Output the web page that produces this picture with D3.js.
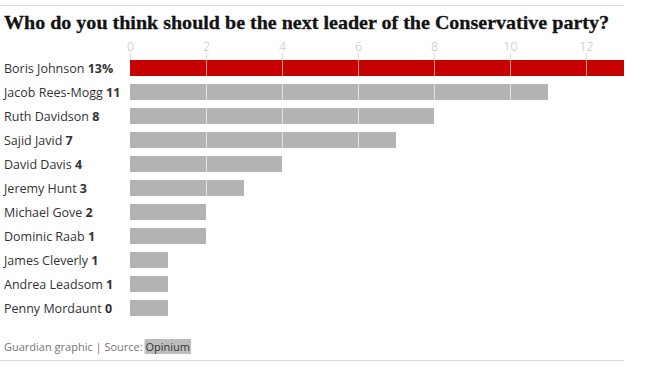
<!DOCTYPE html>
<html>
<head>
<meta charset="utf-8">
<script src="https://cdn.jsdelivr.net/npm/d3@7"></script>
<style>
  body { margin: 0; background: #fff; }
  svg { display: block; }
</style>
</head>
<body>
<div id="chart"></div>
<script>
// poll data
const names = ["Boris Johnson", "Jacob Rees-Mogg", "Ruth Davidson", "Sajid Javid", "David Davis",
    "Jeremy Hunt", "Michael Gove", "Dominic Raab", "James Cleverly", "Andrea Leadsom", "Penny Mordaunt"];
const barValues = [13, 11, 8, 7, 4, 3, 2, 2, 1, 1, 1];      // bar lengths as drawn
const labelValues = ["13%", "11", "8", "7", "4", "3", "2", "1", "1", "1", "0"]; // numbers printed in labels
const tickValues = [0, 2, 4, 6, 8, 10, 12];

const width = 655, height = 368;
const margin = {left: 130, top: 60};
const rowStep = 24, barH = 16;

const svg = d3.select("#chart").append("svg")
    .attr("width", width)
    .attr("height", height);

// top rule
svg.append("line")
    .attr("x1", 0).attr("x2", 624)
    .attr("y1", 5.5).attr("y2", 5.5)
    .attr("stroke", "#dcdcdc");

svg.append("text")
    .attr("x", 4)
    .attr("y", 29)
    .attr("font-family", "'Liberation Serif', 'DejaVu Serif', serif")
    .attr("font-weight", "bold")
    .attr("font-size", 19.5)
    .attr("textLength", 605)
    .attr("lengthAdjust", "spacingAndGlyphs")
    .attr("fill", "#121212")
    .attr("stroke", "#121212")
    .attr("stroke-width", 0.3)
    .text("Who do you think should be the next leader of the Conservative party?");

const x = d3.scaleLinear()
    .domain([0, 13])
    .range([margin.left, margin.left + 38 * 13]);

const y = d3.scaleBand()
    .domain(names)
    .range([margin.top, margin.top + rowStep * (names.length - 1) + barH])
    .paddingInner((rowStep - barH) / rowStep)
    .paddingOuter(0);

// axis labels + ticks
const axis = svg.append("g")
    .attr("transform", "translate(0," + margin.top + ")")
    .call(d3.axisTop(x).tickValues(tickValues).tickSize(7).tickPadding(2));
axis.select(".domain").remove();
axis.selectAll("line").attr("stroke", "#dcdcdc");
axis.selectAll("text")
    .attr("fill", "#bdbdbd")
    .attr("font-family", "'Open Sans', 'Noto Sans', sans-serif")
    .attr("font-weight", 300)
    .attr("font-size", 12.5);

// bars
svg.selectAll(".bar")
    .data(names)
    .enter().append("rect")
    .attr("class", "bar")
    .attr("x", x(0))
    .attr("y", d => y(d))
    .attr("width", (d, i) => x(barValues[i]) - x(0))
    .attr("height", y.bandwidth())
    .attr("fill", (d, i) => i === 0 ? "#c70000" : "#b3b3b3");

// gridlines drawn over bars
svg.selectAll(".grid")
    .data(tickValues.filter(t => t > 0))
    .enter().append("line")
    .attr("class", "grid")
    .attr("x1", d => Math.round(x(d)) + 0.5)
    .attr("x2", d => Math.round(x(d)) + 0.5)
    .attr("y1", margin.top)
    .attr("y2", margin.top + rowStep * names.length)
    .attr("stroke", "rgba(255,255,255,0.6)");

// row labels
const labels = svg.selectAll(".label")
    .data(names)
    .enter().append("text")
    .attr("class", "label")
    .attr("x", 4)
    .attr("y", d => y(d) + y.bandwidth() / 2 + 4.5)
    .attr("font-family", "'Open Sans', 'Noto Sans', sans-serif")
    .attr("font-size", 12.5)
    .attr("fill", "#333");
labels.append("tspan").text(d => d + " ");
labels.append("tspan")
    .attr("font-weight", "bold")
    .text((d, i) => labelValues[i]);

// footer
const footerG = svg.append("g");
const footer = footerG.append("text")
    .attr("x", 4)
    .attr("y", 351)
    .attr("font-family", "'Open Sans', 'Noto Sans', sans-serif")
    .attr("font-size", 11)
    .attr("fill", "#767676");
const prefix = "Guardian graphic | Source: ";
footer.append("tspan").text(prefix);
footer.append("tspan").attr("fill", "#333").text("Opinium");

const fnode = footer.node();
const full = fnode.getComputedTextLength();
const start = fnode.getSubStringLength(0, prefix.length);
footerG.insert("rect", "text")
    .attr("x", 4 + start - 1)
    .attr("y", 339)
    .attr("width", full - start + 2)
    .attr("height", 15)
    .attr("fill", "#bdbdbd");

svg.append("line")
    .attr("x1", 0).attr("x2", 624)
    .attr("y1", 360.5).attr("y2", 360.5)
    .attr("stroke", "#dcdcdc");
</script>
</body>
</html>
